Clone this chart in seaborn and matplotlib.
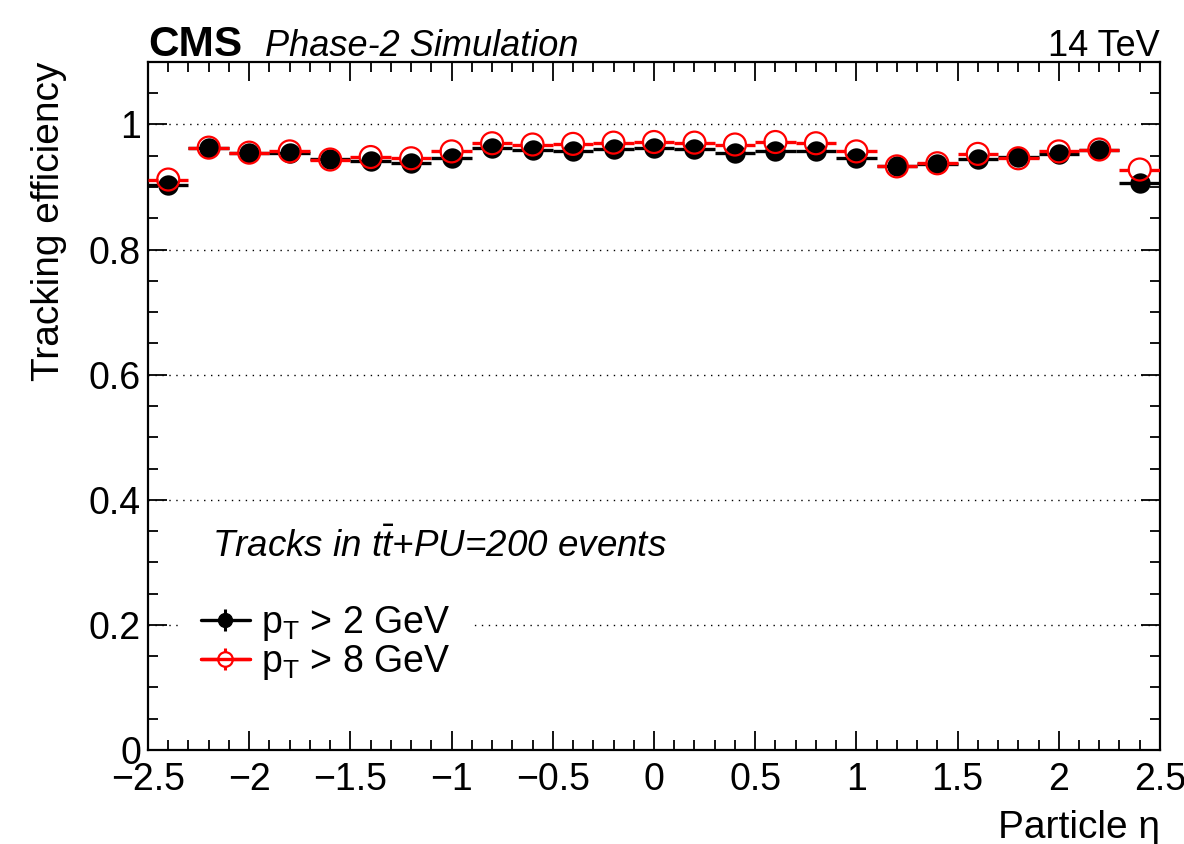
import numpy as np
import pandas as pd
import matplotlib
matplotlib.use("Agg")
import matplotlib.pyplot as plt
from matplotlib.lines import Line2D
from matplotlib.legend_handler import HandlerTuple
from matplotlib.ticker import MultipleLocator, FixedLocator, FuncFormatter
import seaborn as sns

# Bin centres in particle pseudorapidity (bins are 0.2 wide)
eta_bins = [-2.4, -2.2, -2.0, -1.8, -1.6, -1.4, -1.2, -1.0, -0.8, -0.6, -0.4, -0.2, 0.0,
            0.2, 0.4, 0.6, 0.8, 1.0, 1.2, 1.4, 1.6, 1.8, 2.0, 2.2, 2.4]
bin_half_width = 0.1

# Tracking efficiency per bin
eff_pt2 = [0.903, 0.963, 0.955, 0.954, 0.945, 0.941, 0.939, 0.947, 0.962, 0.959, 0.958, 0.961, 0.963,
           0.961, 0.955, 0.958, 0.957, 0.947, 0.933, 0.937, 0.945, 0.948, 0.953, 0.959, 0.907]
eff_pt8 = [0.912, 0.963, 0.955, 0.957, 0.944, 0.948, 0.946, 0.957, 0.970, 0.968, 0.969, 0.971, 0.972,
           0.971, 0.968, 0.972, 0.970, 0.957, 0.933, 0.938, 0.953, 0.946, 0.957, 0.960, 0.928]

series_labels = [r"$\mathrm{p}_{\mathrm{T}}$ > 2 GeV", r"$\mathrm{p}_{\mathrm{T}}$ > 8 GeV"]
x_ticks = [-2.5, -2.0, -1.5, -1.0, -0.5, 0.0, 0.5, 1.0, 1.5, 2.0, 2.5]
y_ticks = [0.0, 0.2, 0.4, 0.6, 0.8, 1.0]

df = pd.DataFrame({"eta": eta_bins, "pt2": eff_pt2, "pt8": eff_pt8})

sns.set_theme(style="ticks")
plt.rcParams.update({
    "font.family": ["Liberation Sans", "DejaVu Sans"],
    "mathtext.fontset": "custom",
    "mathtext.rm": "Liberation Sans",
    "mathtext.it": "Liberation Sans:italic",
    "mathtext.bf": "Liberation Sans:bold",
    "axes.linewidth": 1.6,
    "axes.edgecolor": "black",
    "axes.labelcolor": "black",
    "text.color": "black",
    "xtick.color": "black",
    "ytick.color": "black",
    "xtick.labelcolor": "black",
    "ytick.labelcolor": "black",
})

FS = 27
fig = plt.figure(figsize=(11.84, 8.44), dpi=100)
ax = fig.add_axes([0.125, 0.1114, 0.8547, 0.8152])

eta = df["eta"].to_numpy()
lw_bar = 2.4

# p_T > 2 GeV: filled black circles with horizontal bin-width bars
ax.errorbar(df["eta"], df["pt2"], xerr=bin_half_width, fmt="none", ecolor="black",
            elinewidth=lw_bar, capsize=0, zorder=3)
sns.scatterplot(data=df, x="eta", y="pt2", ax=ax, color="black", s=215, marker="o",
                edgecolor="black", linewidth=0, zorder=4, legend=False)

# p_T > 8 GeV: open red circles, bars stop at the marker edge
gap = 0.053
ax.hlines(df["pt8"], eta - bin_half_width, eta - gap, color="red", lw=lw_bar, zorder=5)
ax.hlines(df["pt8"], eta + gap, eta + bin_half_width, color="red", lw=lw_bar, zorder=5)
sns.scatterplot(data=df, x="eta", y="pt8", ax=ax, facecolor="none", edgecolor="red",
                s=250, marker="o", linewidth=1.6, zorder=6, legend=False)

ax.set_xlim(-2.5, 2.5)
ax.set_ylim(0, 1.1)
ax.xaxis.set_major_locator(FixedLocator(x_ticks))
ax.xaxis.set_minor_locator(MultipleLocator(0.1))
ax.yaxis.set_major_locator(FixedLocator(y_ticks))
ax.yaxis.set_minor_locator(MultipleLocator(0.05))
ax.xaxis.set_major_formatter(FuncFormatter(lambda v, _: f"{v:g}".replace("-", "\u2212")))
ax.yaxis.set_major_formatter(FuncFormatter(lambda v, _: f"{v:g}"))
ax.tick_params(which="both", direction="in", top=True, right=True, width=1.3,
               labelsize=FS, color="black")
ax.tick_params(which="major", length=14)
ax.tick_params(which="minor", length=7)
ax.tick_params(axis="x", which="major", pad=9)
ax.tick_params(axis="y", which="major", pad=5)

ax.yaxis.grid(True, which="major", linestyle=(0, (1, 4)), color="black", linewidth=1.0)
ax.xaxis.grid(False)
ax.set_axisbelow(True)

ax.set_ylabel("Tracking efficiency", loc="top", fontsize=28)
ax.yaxis.set_label_coords(-0.08, 1.0)
ax.set_xlabel("Particle \u03b7", loc="right", fontsize=28)
ax.xaxis.set_label_coords(1.0, -0.087)

# Header
ax.text(0.0, 1.009, "CMS", transform=ax.transAxes, fontsize=30.5, fontweight="bold",
        ha="left", va="baseline")
ax.text(0.1156, 1.009, "Phase-2 Simulation", transform=ax.transAxes, fontsize=26,
        fontstyle="italic", ha="left", va="baseline")
ax.text(1.0, 1.009, "14 TeV", transform=ax.transAxes, fontsize=26, ha="right", va="baseline")

ax.text(0.063, 0.309, r"Tracks in $t\bar{t}$+PU=200 events", transform=ax.get_yaxis_transform(),
        fontsize=26.5, fontstyle="italic", ha="left", va="baseline")

# Legend with error-bar style handles
h_pt2 = (Line2D([], [], color="black", lw=lw_bar),
         Line2D([], [], ls="none", marker="|", color="black", markersize=16, mew=2.2),
         Line2D([], [], ls="none", marker="o", color="black", markersize=10))
h_pt8 = (Line2D([], [], color="red", lw=lw_bar),
         Line2D([], [], ls="none", marker="|", color="red", markersize=16, mew=2.2),
         Line2D([], [], ls="none", marker="o", markerfacecolor="white", markeredgecolor="red",
                markersize=10.5, mew=1.6),
         Line2D([], [], color="red", lw=lw_bar))
ax.legend([h_pt2, h_pt8], series_labels, handler_map={tuple: HandlerTuple(ndivide=1)},
          loc="upper left", bbox_to_anchor=(0.030, 0.195 / 1.1 + 0.067), frameon=True,
          facecolor="white", edgecolor="none", framealpha=1, fancybox=False, fontsize=FS,
          handlelength=1.3, handletextpad=0.3, labelspacing=0.0, borderpad=0.6,
          borderaxespad=0)

fig.savefig("out.png", dpi=100)
